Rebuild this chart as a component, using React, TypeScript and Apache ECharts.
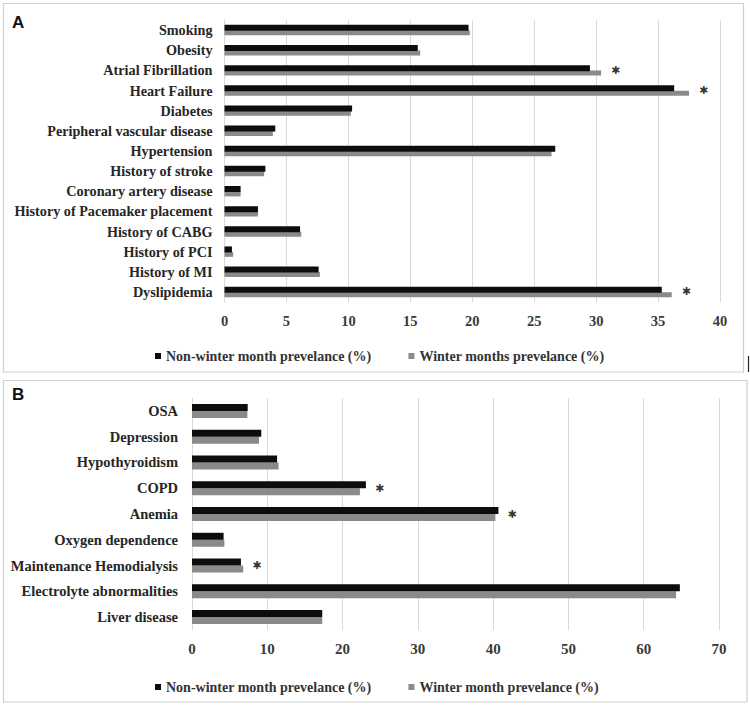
import React, { useEffect, useRef } from "react";
import * as echarts from "echarts";

const catsA = [
  "Smoking",
  "Obesity",
  "Atrial Fibrillation",
  "Heart Failure",
  "Diabetes",
  "Peripheral vascular disease",
  "Hypertension",
  "History of stroke",
  "Coronary artery disease",
  "History of Pacemaker placement",
  "History of CABG",
  "History of PCI",
  "History of MI",
  "Dyslipidemia",
];
const nonWinterA = [19.7, 15.6, 29.5, 36.3, 10.3, 4.1, 26.7, 3.3, 1.3, 2.7, 6.1, 0.6, 7.6, 35.3];
const winterA = [19.8, 15.8, 30.4, 37.5, 10.2, 3.9, 26.4, 3.2, 1.3, 2.7, 6.2, 0.7, 7.7, 36.1];
const sigA = ["Atrial Fibrillation", "Heart Failure", "Dyslipidemia"];

const catsB = [
  "OSA",
  "Depression",
  "Hypothyroidism",
  "COPD",
  "Anemia",
  "Oxygen dependence",
  "Maintenance Hemodialysis",
  "Electrolyte abnormalities",
  "Liver disease",
];
const nonWinterB = [7.4, 9.2, 11.3, 23.1, 40.7, 4.2, 6.5, 64.8, 17.3];
const winterB = [7.35, 8.9, 11.5, 22.3, 40.3, 4.3, 6.8, 64.3, 17.3];
const sigB = ["COPD", "Anemia", "Maintenance Hemodialysis"];

const ticksA = { min: 0, max: 40, interval: 5 };
const ticksB = { min: 0, max: 70, interval: 10 };

const nameBlack = "Non-winter month prevelance (%)";
const nameGrayA = "Winter months prevelance (%)";
const nameGrayB = "Winter month prevelance (%)";

const BLACK = "#0d0d0d";
const GRAY = "#8a8a8a";
const GRID = "#d9d9d9";
const SERIF = "'Liberation Serif', serif";

function sigPoints(cats: string[], a: number[], b: number[], sig: string[]) {
  return cats
    .map((c, i) => (sig.includes(c) ? [Math.max(a[i], b[i]), c] : null))
    .filter((d) => d !== null);
}

export default function App() {
  const ref = useRef<HTMLDivElement>(null);
  useEffect(() => {
    if (!ref.current) return;
    const chart = echarts.init(ref.current, undefined, { renderer: "svg" });
    const xAxisCommon = (idx: number, t: any, margin: number, fs: number) => ({
      type: "value",
      gridIndex: idx,
      min: t.min,
      max: t.max,
      interval: t.interval,
      axisLine: { show: false },
      axisTick: { show: false },
      splitLine: { show: true, lineStyle: { color: GRID, width: 1 } },
      axisLabel: {
        margin,
        fontFamily: SERIF,
        fontWeight: "bold",
        fontSize: fs,
        color: "#3a3a3a",
      },
    });
    const yAxisCommon = (idx: number, cats: string[], margin: number, fs: number) => ({
      type: "category",
      gridIndex: idx,
      data: cats,
      inverse: true,
      axisLine: { show: true, lineStyle: { color: GRID, width: 1 } },
      axisTick: { show: false },
      axisLabel: {
        margin,
        fontFamily: SERIF,
        fontWeight: "bold",
        fontSize: fs,
        color: "#262626",
      },
    });
    const asterisk = (xi: number, data: any[], dist: number) => ({
      type: "scatter",
      xAxisIndex: xi,
      yAxisIndex: xi,
      data,
      symbolSize: 0,
      silent: true,
      label: {
        show: true,
        position: "right",
        distance: dist,
        formatter: "\u2731",
        fontFamily: "'DejaVu Sans', sans-serif",
        fontWeight: "bold",
        fontSize: 11,
        color: "#000",
      },
    });
    const legendCommon = (top: number, names: string[]) => ({
      top,
      left: 150,
      orient: "horizontal",
      data: names,
      itemWidth: 6,
      itemHeight: 6,
      itemGap: 37,
      icon: "rect",
      selectedMode: false,
      textStyle: {
        fontFamily: SERIF,
        fontWeight: "bold",
        fontSize: 14,
        color: "#333",
      },
    });
    chart.setOption({
      animation: false,
      backgroundColor: "#fff",
      grid: [
        { left: 224.5, right: 30, top: 20, bottom: 405, containLabel: false },
        { left: 192, right: 31, top: 398, bottom: 77, containLabel: false },
      ],
      xAxis: [xAxisCommon(0, ticksA, 11, 14.5), xAxisCommon(1, ticksB, 11, 15)],
      yAxis: [yAxisCommon(0, catsA, 12, 14.2), yAxisCommon(1, catsB, 14, 14.5)],
      legend: [legendCommon(344, [nameBlack, nameGrayA]), legendCommon(675, [nameBlack, nameGrayB])],
      series: [
        {
          type: "bar",
          name: nameBlack,
          xAxisIndex: 0,
          yAxisIndex: 0,
          data: nonWinterA,
          barWidth: 6,
          barGap: "-10%",
          itemStyle: { color: BLACK },
          z: 3,
        },
        {
          type: "bar",
          name: nameGrayA,
          xAxisIndex: 0,
          yAxisIndex: 0,
          data: winterA,
          barWidth: 5,
          itemStyle: { color: GRAY },
          z: 2,
        },
        {
          type: "bar",
          name: nameBlack,
          xAxisIndex: 1,
          yAxisIndex: 1,
          data: nonWinterB,
          barWidth: 7,
          barGap: "0%",
          itemStyle: { color: BLACK },
          z: 3,
        },
        {
          type: "bar",
          name: nameGrayB,
          xAxisIndex: 1,
          yAxisIndex: 1,
          data: winterB,
          barWidth: 7,
          itemStyle: { color: GRAY },
          z: 2,
        },
        asterisk(0, sigPoints(catsA, nonWinterA, winterA, sigA), 10),
        asterisk(1, sigPoints(catsB, nonWinterB, winterB, sigB), 9),
      ],
      graphic: [
        {
          type: "rect",
          shape: { x: 3.5, y: 3.5, width: 740, height: 368.5 },
          style: { fill: "none", stroke: "#cfcfcf", lineWidth: 1.2 },
          silent: true,
        },
        {
          type: "rect",
          shape: { x: 3.5, y: 380.5, width: 743.5, height: 321.5 },
          style: { fill: "none", stroke: "#cfcfcf", lineWidth: 1.2 },
          silent: true,
        },
        {
          type: "line",
          shape: { x1: 748.5, y1: 356, x2: 748.5, y2: 372 },
          style: { stroke: "#222", lineWidth: 1.2 },
          silent: true,
        },
        {
          type: "text",
          x: 12,
          y: 14,
          style: {
            text: "A",
            font: "bold 17px 'Liberation Sans', sans-serif",
            fill: "#111",
          },
          silent: true,
        },
        {
          type: "text",
          x: 12,
          y: 386,
          style: {
            text: "B",
            font: "bold 17px 'Liberation Sans', sans-serif",
            fill: "#111",
          },
          silent: true,
        },
      ],
    });
    return () => chart.dispose();
  }, []);
  return (
    <div
      ref={ref}
      style={{ position: "fixed", left: 0, top: 0, width: 750, height: 707, background: "#fff" }}
    />
  );
}
